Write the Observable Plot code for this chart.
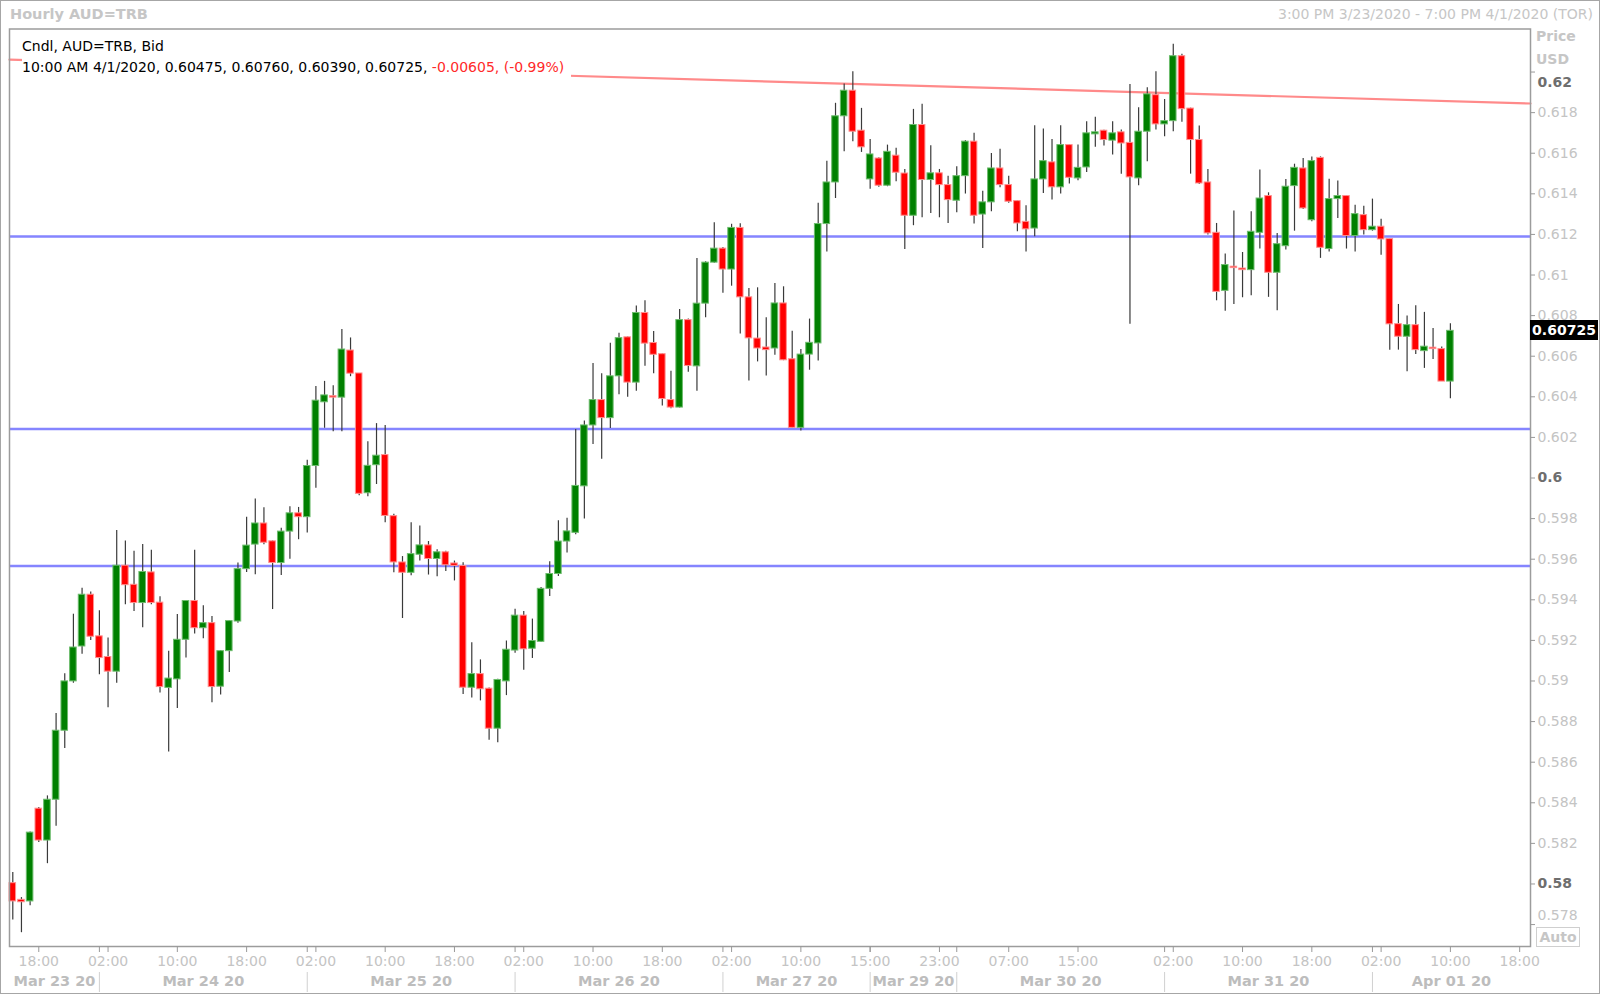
<!DOCTYPE html>
<html>
<head>
<meta charset="utf-8">
<script src="https://cdn.jsdelivr.net/npm/d3@7"></script>
<script src="https://cdn.jsdelivr.net/npm/@observablehq/plot@0.6"></script>
<style>
  html, body { margin: 0; padding: 0; background: #fff; }
  #wrap { position: relative; width: 1600px; height: 994px; overflow: hidden; font-family: "DejaVu Sans", sans-serif; }
  #wrap svg { position: absolute; left: 0; top: 0; }
  .ov { position: absolute; white-space: nowrap; }
</style>
</head>
<body>
<div id="wrap"></div>
<script>
// ---------- data ----------
const opens = [
0.58004,0.57922,0.57914,0.58371,0.58214,0.58415,0.58755,0.58998,0.59170,0.59425,
0.59220,0.59118,0.59046,0.59568,0.59474,0.59384,0.59535,0.59386,0.58966,0.59008,
0.59203,0.59394,0.59260,0.59285,0.58972,0.59147,0.59293,0.59551,0.59672,0.59776,
0.59688,0.59581,0.59736,0.59826,0.59807,0.60059,0.60373,0.60403,0.60396,0.60628,
0.60515,0.59925,0.60063,0.60113,0.59812,0.59584,0.59533,0.59622,0.59668,0.59601,
0.59634,0.59579,0.59567,0.58967,0.59034,0.58962,0.58765,0.58998,0.59150,0.59322,
0.59159,0.59193,0.59454,0.59527,0.59687,0.59730,0.59959,0.60259,0.60384,0.60295,
0.60501,0.60693,0.60470,0.60813,0.60665,0.60610,0.60384,0.60347,0.60778,0.60550,
0.60859,0.61061,0.61130,0.61027,0.61232,0.60890,0.60687,0.60643,0.60638,0.60860,
0.60585,0.60247,0.60608,0.60663,0.61251,0.61456,0.61782,0.61908,0.61711,0.61471,
0.61574,0.61440,0.61588,0.61500,0.61292,0.61739,0.61468,0.61501,0.61443,0.61366,
0.61487,0.61657,0.61298,0.61358,0.61525,0.61443,0.61364,0.61262,0.61229,0.61471,
0.61555,0.61432,0.61640,0.61476,0.61530,0.61693,0.61711,0.61662,0.61703,0.61651,
0.61476,0.61706,0.61886,0.61742,0.61758,0.62078,0.61820,0.61665,0.61456,0.61208,
0.60922,0.61041,0.61032,0.61024,0.61208,0.61389,0.61011,0.61142,0.61438,0.61525,
0.61270,0.61577,0.61128,0.61374,0.61389,0.61192,0.61295,0.61221,0.61238,0.61177,
0.60758,0.60696,0.60753,0.60625,0.60642,0.60635,0.60475];
const highs = [
0.58056,0.57933,0.58256,0.58377,0.58434,0.58840,0.59036,0.59329,0.59457,0.59438,
0.59346,0.59212,0.59742,0.59690,0.59639,0.59673,0.59644,0.59415,0.59147,0.59327,
0.59394,0.59644,0.59371,0.59318,0.59150,0.59298,0.59581,0.59807,0.59897,0.59853,
0.59690,0.59753,0.59859,0.59855,0.60088,0.60451,0.60476,0.60455,0.60732,0.60690,
0.60515,0.60179,0.60268,0.60259,0.59822,0.59613,0.59779,0.59764,0.59687,0.59647,
0.59639,0.59591,0.59582,0.59188,0.59104,0.58966,0.59008,0.59197,0.59353,0.59342,
0.59305,0.59460,0.59587,0.59790,0.59802,0.60239,0.60281,0.60564,0.60513,0.60664,
0.60713,0.60695,0.60847,0.60873,0.60722,0.60612,0.60526,0.60830,0.60783,0.61082,
0.61065,0.61258,0.61135,0.61250,0.61253,0.60933,0.60937,0.60789,0.60958,0.60942,
0.60723,0.60633,0.60783,0.61353,0.61561,0.61846,0.61941,0.62002,0.61821,0.61668,
0.61578,0.61640,0.61624,0.61520,0.61816,0.61841,0.61637,0.61520,0.61487,0.61533,
0.61662,0.61698,0.61413,0.61599,0.61619,0.61487,0.61366,0.61341,0.61735,0.61719,
0.61668,0.61735,0.61642,0.61640,0.61755,0.61777,0.61713,0.61755,0.61714,0.61939,
0.61824,0.61922,0.62001,0.61865,0.62137,0.62087,0.61822,0.61734,0.61520,0.61254,
0.61103,0.61316,0.61111,0.61312,0.61517,0.61405,0.61205,0.61471,0.61546,0.61574,
0.61582,0.61582,0.61472,0.61463,0.61391,0.61344,0.61339,0.61374,0.61275,0.61179,
0.60855,0.60798,0.60848,0.60816,0.60737,0.60646,0.60760];
const lows = [
0.57822,0.57760,0.57893,0.58204,0.58100,0.58285,0.58667,0.58989,0.59132,0.59199,
0.59031,0.58868,0.58989,0.59375,0.59342,0.59262,0.59375,0.58941,0.58650,0.58864,
0.59113,0.59231,0.59208,0.58893,0.58931,0.59042,0.59285,0.59534,0.59524,0.59671,
0.59352,0.59520,0.59600,0.59696,0.59729,0.59950,0.60245,0.60228,0.60228,0.60499,
0.59912,0.59908,0.59968,0.59779,0.59533,0.59308,0.59519,0.59591,0.59522,0.59514,
0.59539,0.59493,0.58933,0.58916,0.58902,0.58708,0.58696,0.58928,0.59137,0.59053,
0.59111,0.59190,0.59416,0.59515,0.59630,0.59721,0.59798,0.60165,0.60093,0.60244,
0.60410,0.60398,0.60427,0.60550,0.60513,0.60355,0.60341,0.60345,0.60521,0.60427,
0.60790,0.61058,0.60910,0.60945,0.60710,0.60478,0.60572,0.60502,0.60605,0.60578,
0.60245,0.60232,0.60531,0.60577,0.61114,0.61377,0.61607,0.61657,0.61604,0.61422,
0.61432,0.61435,0.61459,0.61126,0.61243,0.61282,0.61303,0.61282,0.61254,0.61307,
0.61399,0.61251,0.61131,0.61312,0.61430,0.61353,0.61213,0.61114,0.61188,0.61402,
0.61369,0.61399,0.61448,0.61464,0.61505,0.61629,0.61635,0.61591,0.61497,0.60758,
0.61440,0.61558,0.61714,0.61681,0.61706,0.61752,0.61497,0.61446,0.61197,0.60873,
0.60822,0.60855,0.60888,0.60898,0.61128,0.60890,0.60824,0.61123,0.61216,0.61323,
0.61262,0.61082,0.61114,0.61279,0.61128,0.61114,0.61197,0.61216,0.61098,0.60630,
0.60630,0.60523,0.60609,0.60540,0.60584,0.60475,0.60390];
const closes = [
0.57914,0.57910,0.58253,0.58214,0.58415,0.58755,0.58998,0.59165,0.59425,0.59218,
0.59113,0.59046,0.59568,0.59472,0.59384,0.59537,0.59384,0.58970,0.59012,0.59203,
0.59394,0.59260,0.59285,0.58970,0.59147,0.59295,0.59551,0.59667,0.59776,0.59681,
0.59581,0.59736,0.59826,0.59807,0.60059,0.60381,0.60407,0.60396,0.60633,0.60514,
0.59922,0.60060,0.60110,0.59813,0.59584,0.59533,0.59625,0.59668,0.59601,0.59634,
0.59570,0.59567,0.58967,0.59034,0.58959,0.58765,0.59005,0.59154,0.59322,0.59156,
0.59197,0.59454,0.59527,0.59687,0.59737,0.59961,0.60259,0.60384,0.60295,0.60501,
0.60689,0.60470,0.60813,0.60662,0.60607,0.60389,0.60347,0.60778,0.60552,0.60859,
0.61061,0.61130,0.61027,0.61232,0.60890,0.60688,0.60638,0.60630,0.60860,0.60580,
0.60247,0.60608,0.60666,0.61251,0.61456,0.61782,0.61908,0.61706,0.61629,0.61594,
0.61440,0.61607,0.61504,0.61292,0.61739,0.61468,0.61501,0.61443,0.61369,0.61487,
0.61657,0.61292,0.61358,0.61525,0.61443,0.61361,0.61254,0.61225,0.61471,0.61561,
0.61432,0.61640,0.61479,0.61528,0.61698,0.61703,0.61665,0.61698,0.61648,0.61481,
0.61706,0.61890,0.61742,0.61758,0.62078,0.61817,0.61665,0.61451,0.61205,0.60917,
0.61049,0.61034,0.61024,0.61213,0.61377,0.61011,0.61152,0.61435,0.61528,0.61328,
0.61561,0.61134,0.61374,0.61389,0.61192,0.61300,0.61221,0.61238,0.61175,0.60757,
0.60696,0.60753,0.60630,0.60647,0.60635,0.60475,0.60725];

// horizontal support / resistance levels and red trend line (bar index, price)
const levelPrices = [0.61190, 0.60242, 0.59566];
const trendIdx = [-0.38, 175.25];
const trendPrice = [0.62061, 0.61845];

// right price axis
const priceTicks = [0.62,0.618,0.616,0.614,0.612,0.61,0.608,0.606,0.604,0.602,0.6,
  0.598,0.596,0.594,0.592,0.59,0.588,0.586,0.584,0.582,0.58,0.578];
const boldTicks = [0.6, 0.58];
const topTick = [0.62];      // bold, drawn just below its tick
const bottomTick = [0.578];  // regular, drawn just above its tick

// time axis (bar index positions of labels)
const timeTickIdx = [3,11,19,27,35,43,51,59,67,75,83,91,99,107,115,123,134,142,150,158,166,174];
const timeLabels = ["18:00","02:00","10:00","18:00","02:00","10:00","18:00","02:00","10:00","18:00",
  "02:00","10:00","15:00","23:00","07:00","15:00","02:00","10:00","18:00","02:00","10:00","18:00"];
const dayBounds = [10, 34, 58, 82, 99, 109, 133, 157];
const dayLabels = ["Mar 23 20","Mar 24 20","Mar 25 20","Mar 26 20","Mar 27 20","Mar 29 20","Mar 30 20","Mar 31 20","Apr 01 20"];
const xDomain = [-0.38, 175.25];

const lastChange = "-0.00605";
const lastPct = "(-0.99%)";

// ---------- build ----------
const candles = opens.map((o, i) => ({i, o, h: highs[i], l: lows[i], c: closes[i], up: closes[i] >= o}));
const edges = [xDomain[0], ...dayBounds, xDomain[1]];
const dayCenters = dayLabels.map((t, k) => ({x: (edges[k] + edges[k + 1]) / 2, t}));
const timeTicks = timeTickIdx.map((x, k) => ({x, t: timeLabels[k]}));
const fmtP = d => String(+d.toFixed(3));
const regTicks = priceTicks.filter(d => !boldTicks.includes(d) && !topTick.includes(d) && !bottomTick.includes(d));
const trend = trendIdx.map((x, k) => ({x, y: trendPrice[k]}));

const W = 1600, H = 994, mL = 9, mR = 70, mT = 28.5, mB = 48;
const axisLbl = {frameAnchor: "right", dx: 7, textAnchor: "start", fontSize: 14};

const chart = Plot.plot({
  width: W, height: H,
  marginLeft: mL, marginRight: mR, marginTop: mT, marginBottom: mB,
  style: {fontFamily: "DejaVu Sans, sans-serif", fontSize: "14px", background: "transparent"},
  x: {type: "linear", domain: xDomain, axis: null},
  y: {domain: [0.57692, 0.62212], axis: null},
  marks: [
    Plot.ruleY(levelPrices, {stroke: "#8585ff", strokeWidth: 2.5}),
    Plot.line(trend, {x: "x", y: "y", stroke: "#ff8a8a", strokeWidth: 2.2}),
    Plot.ruleX(candles, {x: "i", y1: "l", y2: "h", stroke: "#3a3a3a", strokeWidth: 1.2}),
    Plot.rect(candles, {
      x1: d => d.i - 0.38, x2: d => d.i + 0.38, y1: "o", y2: "c",
      fill: d => d.up ? "#008000" : "#ff0000",
      stroke: d => d.up ? "#6cbc6c" : "#ff8f8f", strokeWidth: 1
    }),
    Plot.frame({stroke: "#9c9c9c", strokeWidth: 1.5}),
    // right axis ticks and labels
    Plot.tickY(priceTicks, {y: d => d, insetLeft: W - mL - mR, insetRight: -5, stroke: "#999"}),
    Plot.text(regTicks, {y: d => d, text: fmtP, ...axisLbl, fill: "#c4c4c4"}),
    Plot.text(bottomTick, {y: d => d, text: fmtP, ...axisLbl, fill: "#c4c4c4", dy: -9}),
    Plot.text(boldTicks, {y: d => d, text: fmtP, ...axisLbl, fill: "#6e6e6e", fontWeight: "bold"}),
    Plot.text(topTick, {y: d => d, text: fmtP, ...axisLbl, fill: "#6e6e6e", fontWeight: "bold", dy: 10}),
    // bottom time axis
    Plot.tickX(timeTicks, {x: "x", insetTop: H - mT - mB, insetBottom: -6, stroke: "#999"}),
    Plot.tickX(dayBounds, {x: d => d, insetTop: H - mT - mB, insetBottom: -6, stroke: "#999"}),
    Plot.text(timeTicks, {x: "x", text: "t", frameAnchor: "bottom", dy: 19, fill: "#c4c4c4", fontSize: 14}),
    Plot.ruleX(dayBounds, {x: d => d, insetTop: H - mT - mB + 26, insetBottom: -46, stroke: "#d0d0d0"}),
    Plot.text(dayCenters, {x: "x", text: "t", frameAnchor: "bottom", dy: 39, fill: "#bdbdbd",
      fontWeight: "bold", fontSize: 14.5})
  ]
});

const wrap = document.getElementById("wrap");
wrap.appendChild(chart);

function ov(html, css) {
  const d = document.createElement("div");
  d.className = "ov";
  d.innerHTML = html;
  Object.assign(d.style, css);
  wrap.appendChild(d);
  return d;
}
const n = opens.length - 1;
// headers
ov("Hourly AUD=TRB", {left: "10px", top: "6px", fontSize: "14.5px", fontWeight: "bold", color: "#c6c6c6"});
ov("3:00 PM 3/23/2020 - 7:00 PM 4/1/2020 (TOR)", {right: "7px", top: "6px", fontSize: "14px", color: "#c6c6c6"});
// legend box
ov(`<div>Cndl, AUD=TRB, Bid</div><div>10:00 AM 4/1/2020, ${opens[n].toFixed(5)}, ${highs[n].toFixed(5)}, ${lows[n].toFixed(5)}, ${closes[n].toFixed(5)}, <span style="color:#ff2a2a">${lastChange}, ${lastPct}</span></div>`,
  {left: "22px", top: "36px", width: "549px", height: "43px", background: "#fff", fontSize: "14px", lineHeight: "21px", color: "#000"});
// price axis title
ov("Price", {left: "1536px", top: "28px", fontSize: "14px", fontWeight: "bold", color: "#c6c6c6"});
ov("USD", {left: "1536px", top: "51px", fontSize: "14px", fontWeight: "bold", color: "#c6c6c6"});
// last price tag
const yLast = chart.scale("y").apply(closes[n]);
ov(closes[n].toFixed(5), {left: "1530px", top: (yLast - 10) + "px", width: "68px", height: "20px", lineHeight: "20px",
  background: "#000", color: "#fff", fontWeight: "bold", fontSize: "14px", textAlign: "center"});
// auto box
ov("Auto", {left: "1536px", top: "927px", width: "42px", height: "18px", lineHeight: "18px", border: "1px solid #cfcfcf",
  color: "#c6c6c6", fontWeight: "bold", fontSize: "14px", textAlign: "center"});
// outer border
ov("", {left: "0px", top: "0px", width: "1598px", height: "992px", border: "1px solid #a6a6a6", pointerEvents: "none"});
</script>
</body>
</html>
